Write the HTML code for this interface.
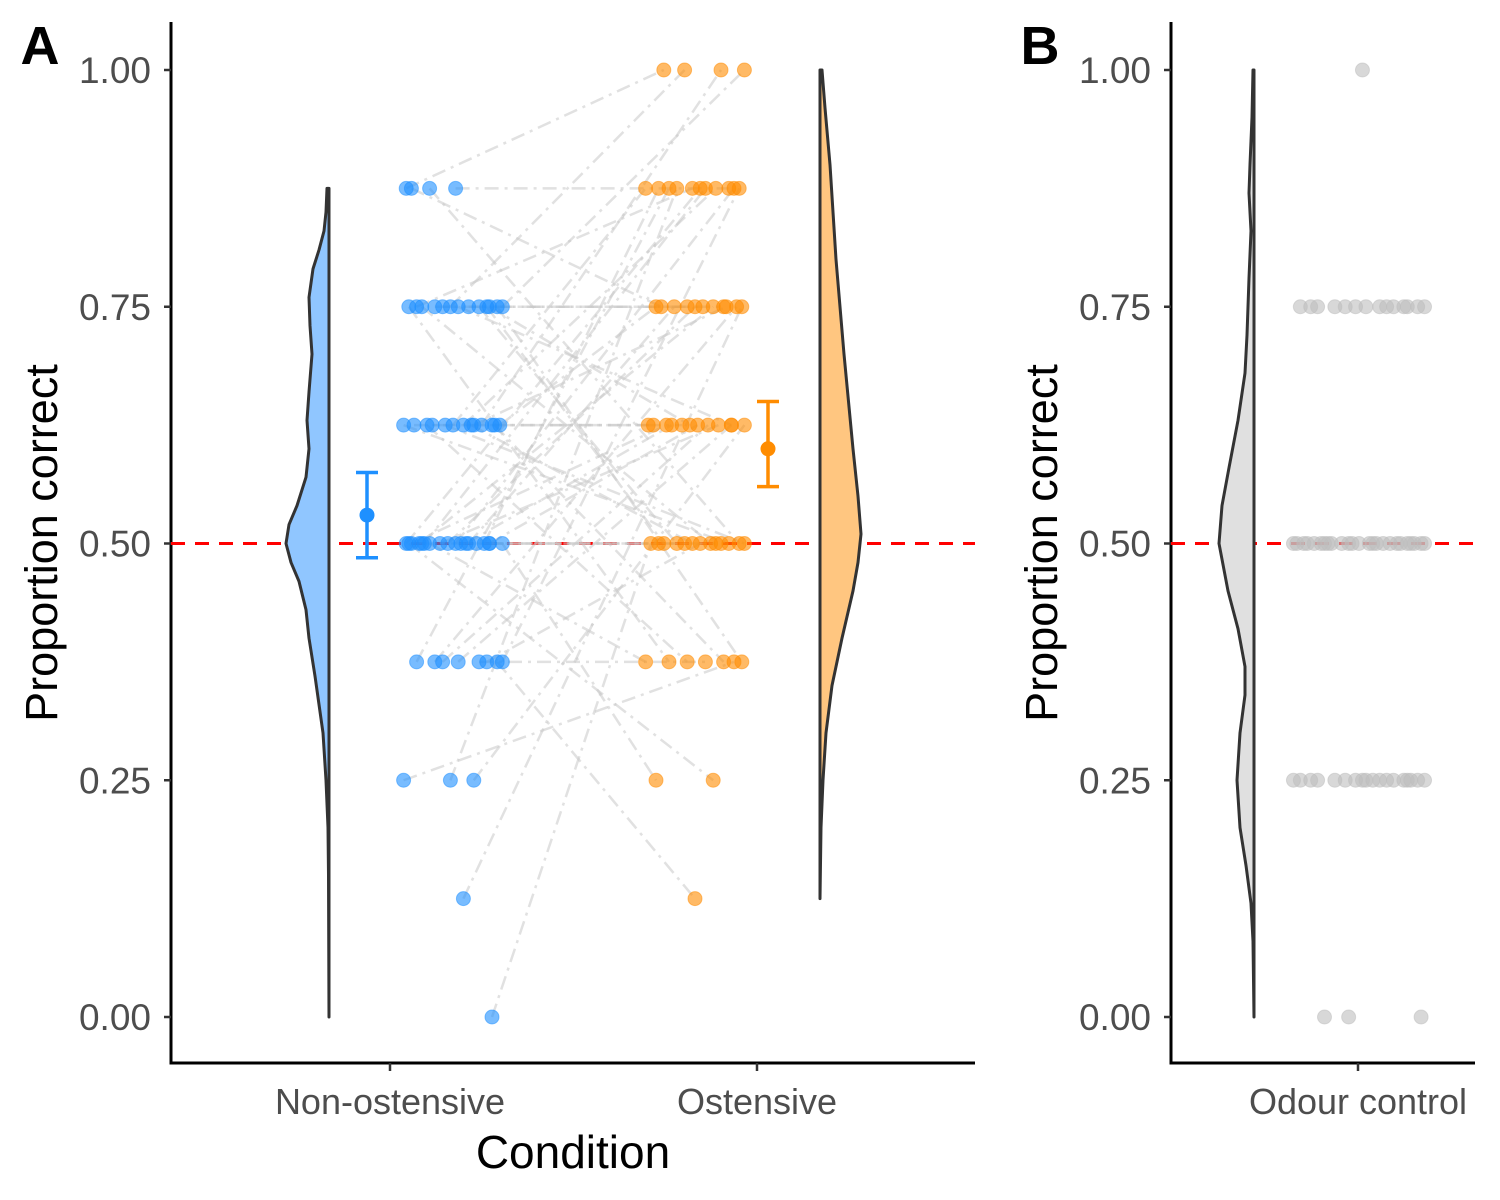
<!DOCTYPE html>
<html><head><meta charset="utf-8">
<style>
html,body{margin:0;padding:0;background:#fff;}
svg{display:block;font-family:"Liberation Sans",Arial,sans-serif;}
</style></head>
<body>
<svg id="chart" width="1500" height="1200" viewBox="0 0 1500 1200">
  <g id="gA"></g>
  <g id="gB"></g>
</svg>
<script>
// ---- data ----
const yTicks = [0, 0.25, 0.5, 0.75, 1.0];
const yTickLabels = ["0.00", "0.25", "0.50", "0.75", "1.00"];
const categoriesA = ["Non-ostensive", "Ostensive"];
const categoriesB = ["Odour control"];
const chanceLevel = 0.5;
// per-participant proportions
const nonOstValues = [0.875,0.875,0.875,0.875,
 0.75,0.75,0.75,0.75,0.75,0.75,0.75,0.75,0.75,0.75,0.75,0.75,0.75,
 0.625,0.625,0.625,0.625,0.625,0.625,0.625,0.625,0.625,0.625,0.625,0.625,0.625,
 0.5,0.5,0.5,0.5,0.5,0.5,0.5,0.5,0.5,0.5,0.5,0.5,0.5,0.5,0.5,0.5,0.5,0.5,
 0.375,0.375,0.375,0.375,0.375,0.375,0.375,0.375,
 0.25,0.25,0.25,0.125,0];
const ostValues = [1,1,1,1,
 0.875,0.875,0.875,0.875,0.875,0.875,0.875,0.875,0.875,0.875,0.875,
 0.75,0.75,0.75,0.75,0.75,0.75,0.75,0.75,0.75,0.75,0.75,
 0.625,0.625,0.625,0.625,0.625,0.625,0.625,0.625,0.625,0.625,0.625,0.625,
 0.5,0.5,0.5,0.5,0.5,0.5,0.5,0.5,0.5,0.5,0.5,0.5,0.5,
 0.375,0.375,0.375,0.375,0.375,0.375,0.375,
 0.25,0.25,0.125];
const odourValues = [1,
 0.75,0.75,0.75,0.75,0.75,0.75,0.75,0.75,0.75,0.75,0.75,0.75,0.75,0.75,
 0.5,0.5,0.5,0.5,0.5,0.5,0.5,0.5,0.5,0.5,0.5,0.5,0.5,0.5,0.5,0.5,0.5,0.5,0.5,0.5,0.5,0.5,0.5,0.5,0.5,
 0.25,0.25,0.25,0.25,0.25,0.25,0.25,0.25,0.25,0.25,0.25,0.25,0.25,0.25,0.25,0.25,0.25,0.25,
 0,0,0];
// jitter fractions (-1..1) of jitter width
const jitterSeq = [-0.9,-0.8,-0.45,0.05,0.7,-0.85,0.3,-0.6,0.95,-0.2,0.5,-0.7,0.1,0.85,-0.35,0.65,-0.05,0.4,-0.95,0.2,0.75,-0.5,0.9,-0.15,0.55,-0.75,0.35,0.0,-0.4,0.8,-0.65,0.15,0.6,-0.25,0.45,-0.55,0.25,0.95,-0.1,0.7];
const nonOstMean = 0.53, nonOstLo = 0.485, nonOstHi = 0.575;
const ostMean = 0.60, ostLo = 0.56, ostHi = 0.65;
// density profiles: [value, relative width]
const densNonOst = [[0,0],[0.15,0.5],[0.2,1],[0.25,3],[0.3,6],[0.33,10],[0.36,14],[0.4,20],[0.43,23],[0.46,30],[0.48,38],[0.5,43],[0.52,40],[0.54,32],[0.57,23],[0.6,20],[0.63,22],[0.66,20],[0.7,17],[0.73,19],[0.76,20],[0.79,16],[0.81,10],[0.83,5],[0.85,3],[0.875,2]];
const densOst = [[0.125,0],[0.2,1],[0.25,3],[0.3,6],[0.35,12],[0.4,22],[0.45,33],[0.48,38],[0.51,41],[0.55,38],[0.6,33],[0.7,24],[0.8,16],[0.9,10],[0.96,5],[1.0,2]];
const densOdour = [[0,0],[0.08,1],[0.12,3],[0.16,8],[0.2,14],[0.25,17],[0.3,14],[0.34,9],[0.37,9],[0.41,16],[0.45,26],[0.5,35],[0.54,32],[0.58,25],[0.63,16],[0.68,9],[0.72,7],[0.78,5],[0.83,3],[0.87,5],[0.9,4],[0.95,2],[1.0,1]];

// ---- scales ----
const y = v => 1017 - v * 947;
const NS = "http://www.w3.org/2000/svg";
function mk(tag, attrs, parent, txt){
  const el = document.createElementNS(NS, tag);
  for (const k in attrs) el.setAttribute(k, attrs[k]);
  if (txt !== undefined) el.textContent = txt;
  parent.appendChild(el);
  return el;
}
const gA = document.getElementById('gA'), gB = document.getElementById('gB');

function axes(g, x0, x1, labelX0){
  const yl = mk('line',{x1:x0,y1:22,x2:x0,y2:1064,stroke:'#000','stroke-width':3},g);
  
  
  const xl = mk('line',{x1:x0-1.5,y1:1063,x2:x1,y2:1063,stroke:'#000','stroke-width':3},g);
  
  
  yTicks.forEach((t,i)=>{
    const tk = mk('line',{x1:x0-7,y1:y(t),x2:x0,y2:y(t),stroke:'#333','stroke-width':2.5},g);
    
    
    const lb = mk('text',{x:x0-20,y:y(t)+13,'text-anchor':'end','font-size':37,fill:'#4d4d4d'},g,yTickLabels[i]);
    
    
  });
  const yt = mk('text',{x:0,y:0,'text-anchor':'middle','font-size':45,fill:'#000',transform:`translate(${labelX0},543) rotate(-90)`},g,'Proportion correct');
  
  
  const rl = mk('line',{x1:x0,y1:y(chanceLevel),x2:x1,y2:y(chanceLevel),stroke:'#ff0000','stroke-width':3,'stroke-dasharray':'14,10'},g);
  
  
}
function xtick(g, x, label){
  const tk = mk('line',{x1:x,y1:1063,x2:x,y2:1071,stroke:'#333','stroke-width':2.5},g);
  
  
  const lb = mk('text',{x:x,y:1114,'text-anchor':'middle','font-size':36,fill:'#4d4d4d'},g,label);
  
  
}
function violin(g, dens, baseX, dir, fill, name){
  let d = `M${baseX},${y(dens[0][0])}`;
  dens.forEach(p=>{ d += ` L${baseX + dir*p[1]},${y(p[0])}`; });
  d += ` L${baseX},${y(dens[dens.length-1][0])} Z`;
  const v = mk('path',{d:d,fill:fill,stroke:'#333','stroke-width':3,'stroke-linejoin':'round'},g);
  
  
}
function pts(values, cx, hw, offset){
  const out=[];
  values.forEach((v,i)=>{
    const x = cx + jitterSeq[(i+offset)%jitterSeq.length]*hw;
    out.push([x,y(v)]);
  });
  return out;
}
function drawPts(g, arr, color, name){
  arr.forEach(p=>{
    const c = mk('circle',{cx:p[0],cy:p[1],r:7,fill:color,'fill-opacity':0.6,stroke:color,'stroke-opacity':0.5,'stroke-width':1},g);
    
    
  });
}
function errbar(g, x, m, lo, hi, color, name){
  const e = mk('g',{},g);
  
  
  mk('line',{x1:x,y1:y(lo),x2:x,y2:y(hi),stroke:color,'stroke-width':3.5},e);
  mk('line',{x1:x-11,y1:y(lo),x2:x+11,y2:y(lo),stroke:color,'stroke-width':3.5},e);
  mk('line',{x1:x-11,y1:y(hi),x2:x+11,y2:y(hi),stroke:color,'stroke-width':3.5},e);
  mk('circle',{cx:x,cy:y(m),r:7.5,fill:color},e);
}

// ---- Panel A ----
axes(gA, 171, 975, 57);
violin(gA, densNonOst, 329, -1, '#90c6ff', 'violin-non-ostensive');
violin(gA, densOst, 820, 1, '#ffc680', 'violin-ostensive');
const pN = pts(nonOstValues, 453, 52, 0);
const pO = pts(ostValues, 695, 52, 7);
const n = Math.min(pN.length, pO.length);
for (let i=0;i<n;i++){
  const j = (i*23) % n;
  const l = mk('line',{x1:pN[i][0],y1:pN[i][1],x2:pO[j][0],y2:pO[j][1],stroke:'#c8c8c8','stroke-opacity':0.55,'stroke-width':2.5,'stroke-dasharray':'14,6,3,6'},gA);
  
  
}
drawPts(gA, pN, '#1e90ff', 'point-non-ostensive');
drawPts(gA, pO, '#ff8c00', 'point-ostensive');
errbar(gA, 367, nonOstMean, nonOstLo, nonOstHi, '#1e90ff', 'mean-ci-non-ostensive');
errbar(gA, 768, ostMean, ostLo, ostHi, '#ff8c00', 'mean-ci-ostensive');
xtick(gA, 390, categoriesA[0]);
xtick(gA, 757, categoriesA[1]);
const xt = mk('text',{x:573,y:1168,'text-anchor':'middle','font-size':46,fill:'#000'},gA,'Condition');


const la = mk('text',{x:40,y:64,'text-anchor':'middle','font-size':54,'font-weight':'bold',fill:'#000'},gA,'A');



// ---- Panel B ----
axes(gB, 1171, 1475, 1057);
violin(gB, densOdour, 1254, -1, '#e0e0e0', 'violin-odour-control');
const pD = pts(odourValues, 1359, 69, 3);
drawPts(gB, pD, '#bebebe', 'point-odour-control');
xtick(gB, 1358, categoriesB[0]);
const lb2 = mk('text',{x:1040,y:64,'text-anchor':'middle','font-size':54,'font-weight':'bold',fill:'#000'},gB,'B');


</script>
</body></html>
